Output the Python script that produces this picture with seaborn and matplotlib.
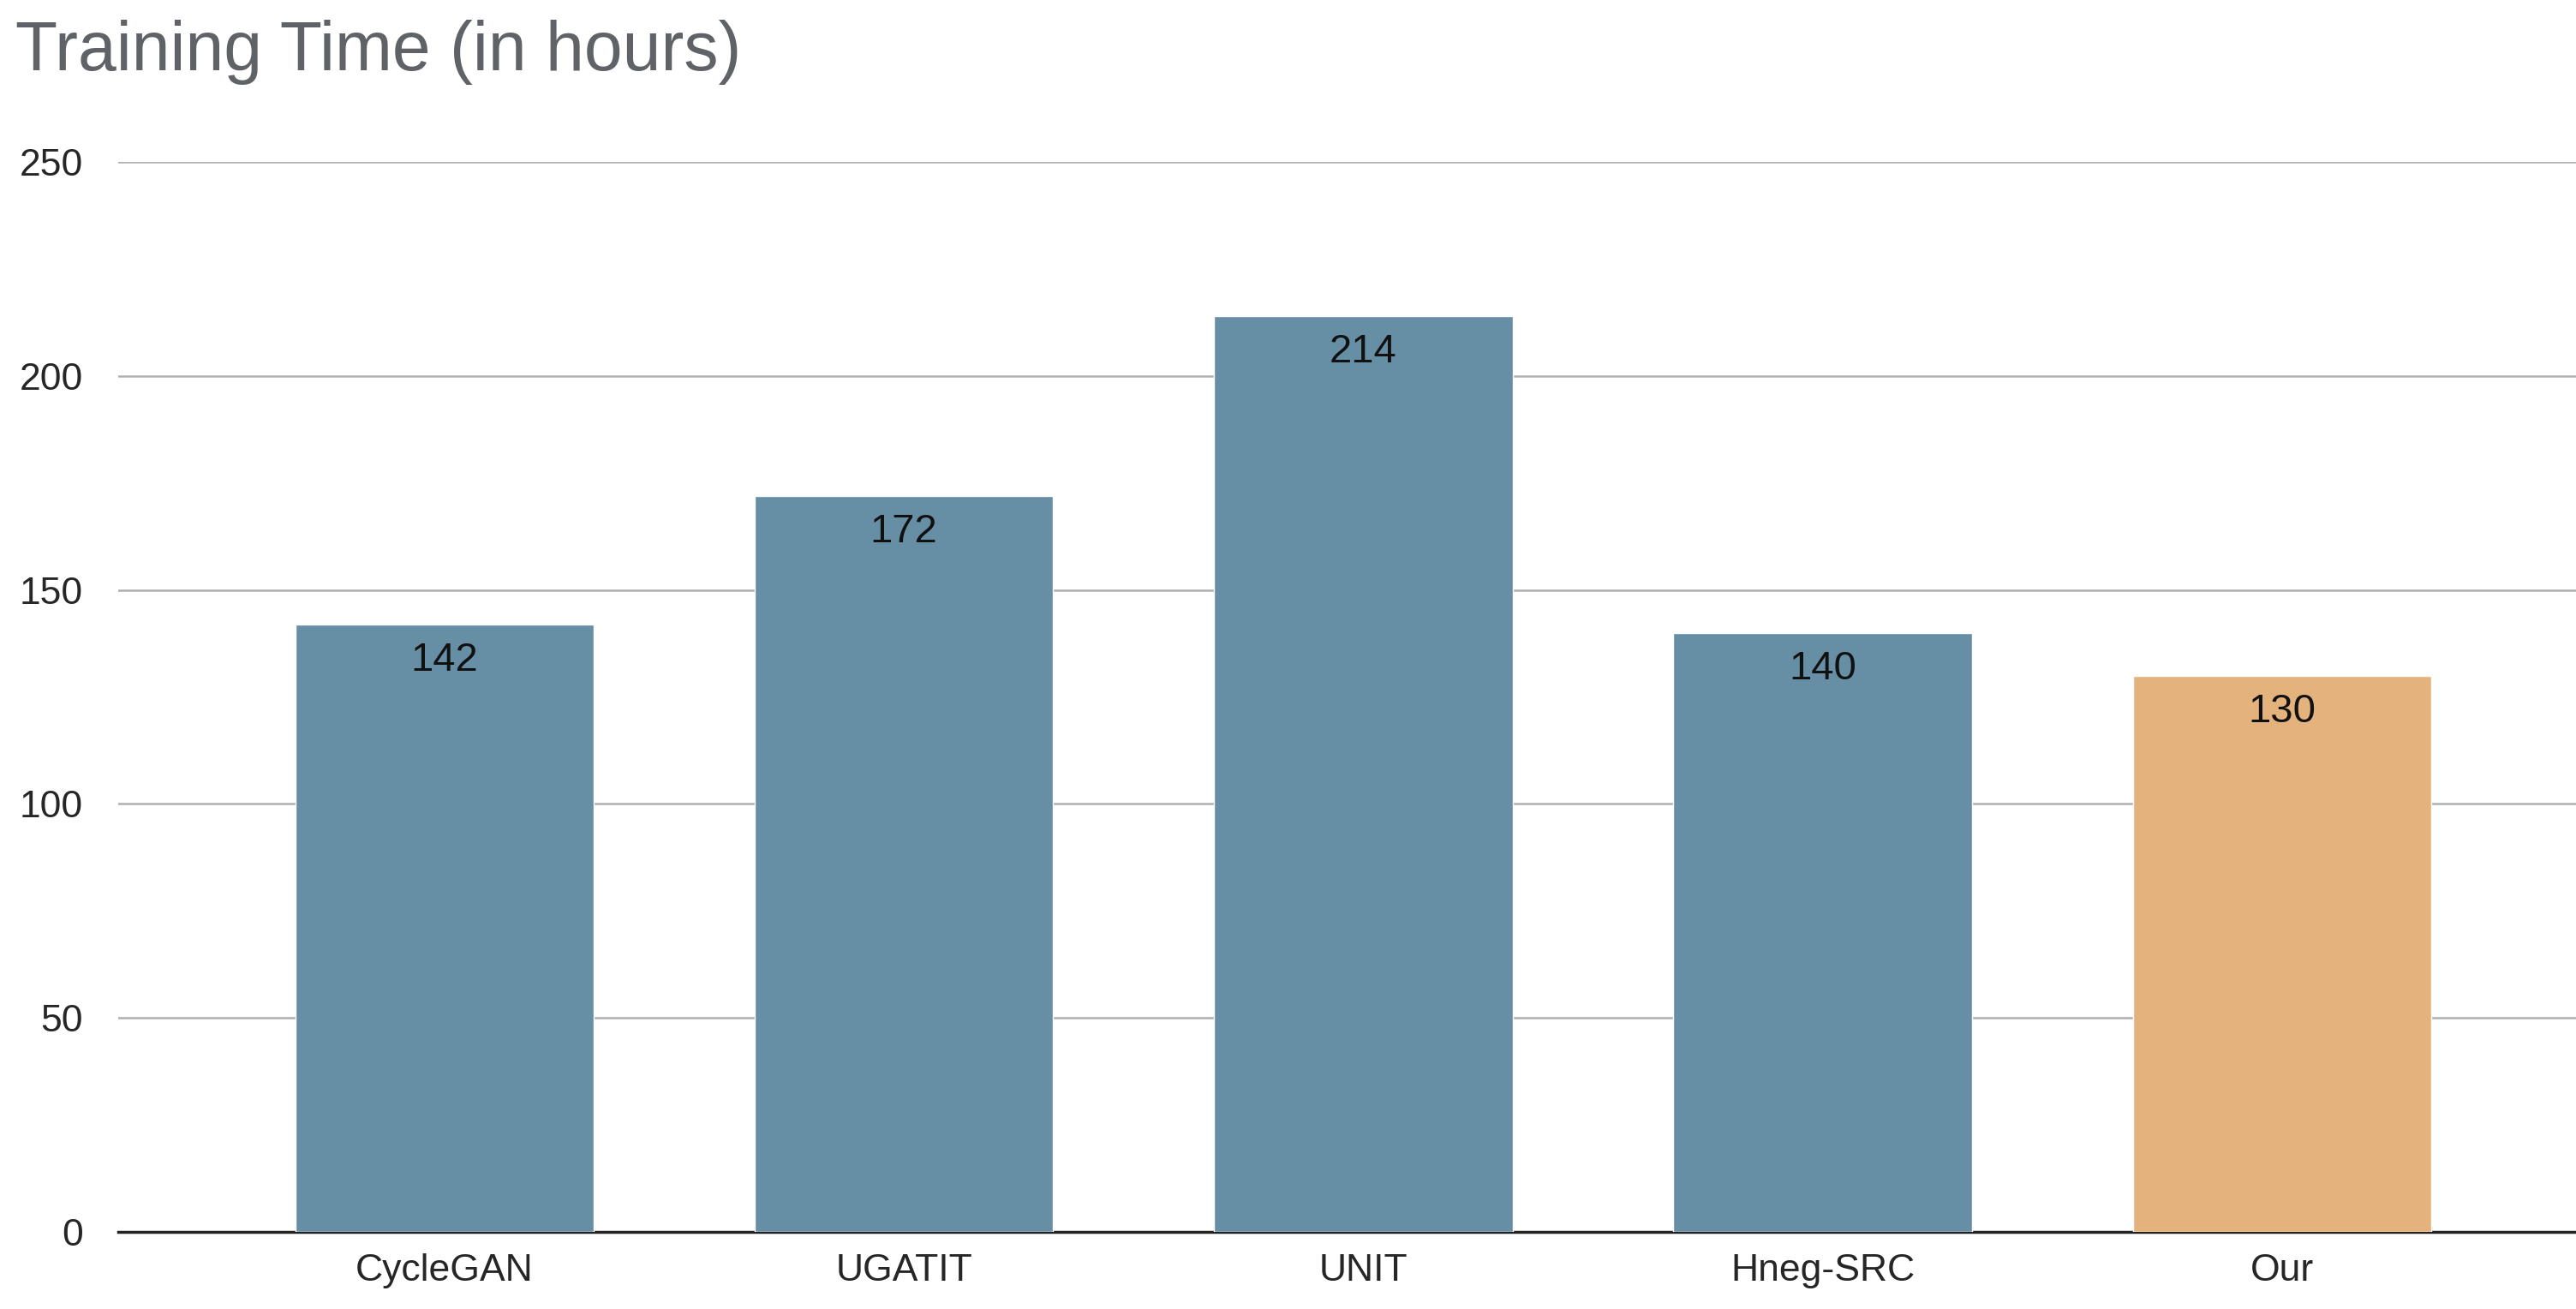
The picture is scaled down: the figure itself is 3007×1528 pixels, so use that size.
import matplotlib
matplotlib.use('Agg')
import matplotlib.pyplot as plt
import seaborn as sns
import pandas as pd

models = ['CycleGAN', 'UGATIT', 'UNIT', 'Hneg-SRC', 'Our']
hours = [142, 172, 214, 140, 130]
colors = ['#5b92b0', '#5b92b0', '#5b92b0', '#5b92b0', '#f5b26b']

df = pd.DataFrame({'model': models, 'hours': hours})

sns.set_style('white')
plt.rcParams['font.family'] = ['Liberation Sans', 'DejaVu Sans']

fig = plt.figure(figsize=(30.07, 15.28), dpi=100)
ax = fig.add_axes([0.046, 0.059, 0.954, 0.817])

sns.barplot(data=df, x='model', y='hours', hue='model', palette=colors,
            width=0.65, legend=False, ax=ax, zorder=3)

for i, v in enumerate(hours):
    ax.text(i, v - 4, str(v), ha='center', va='top', fontsize=34, color='#111111', zorder=4)

ax.set_ylim(0, 250)
ax.set_xlim(-0.71, 4.64)
ax.set_yticks([0, 50, 100, 150, 200, 250])
ax.yaxis.grid(True, color='#b0b0b0', linewidth=1.8, zorder=0)
ax.set_axisbelow(True)
ax.tick_params(axis='y', labelsize=32, length=0, pad=30)
ax.tick_params(axis='x', labelsize=32, length=0, pad=18)
ax.set_xlabel('')
ax.set_ylabel('')
for s in ['top', 'right', 'left']:
    ax.spines[s].set_visible(False)
ax.spines['bottom'].set_color('#222222')
ax.spines['bottom'].set_linewidth(2.5)

fig.text(0.006, 0.96, 'Training Time (in hours)', fontsize=58, color='#5f6368', ha='left', va='center')

plt.savefig('out.png', dpi=100)
